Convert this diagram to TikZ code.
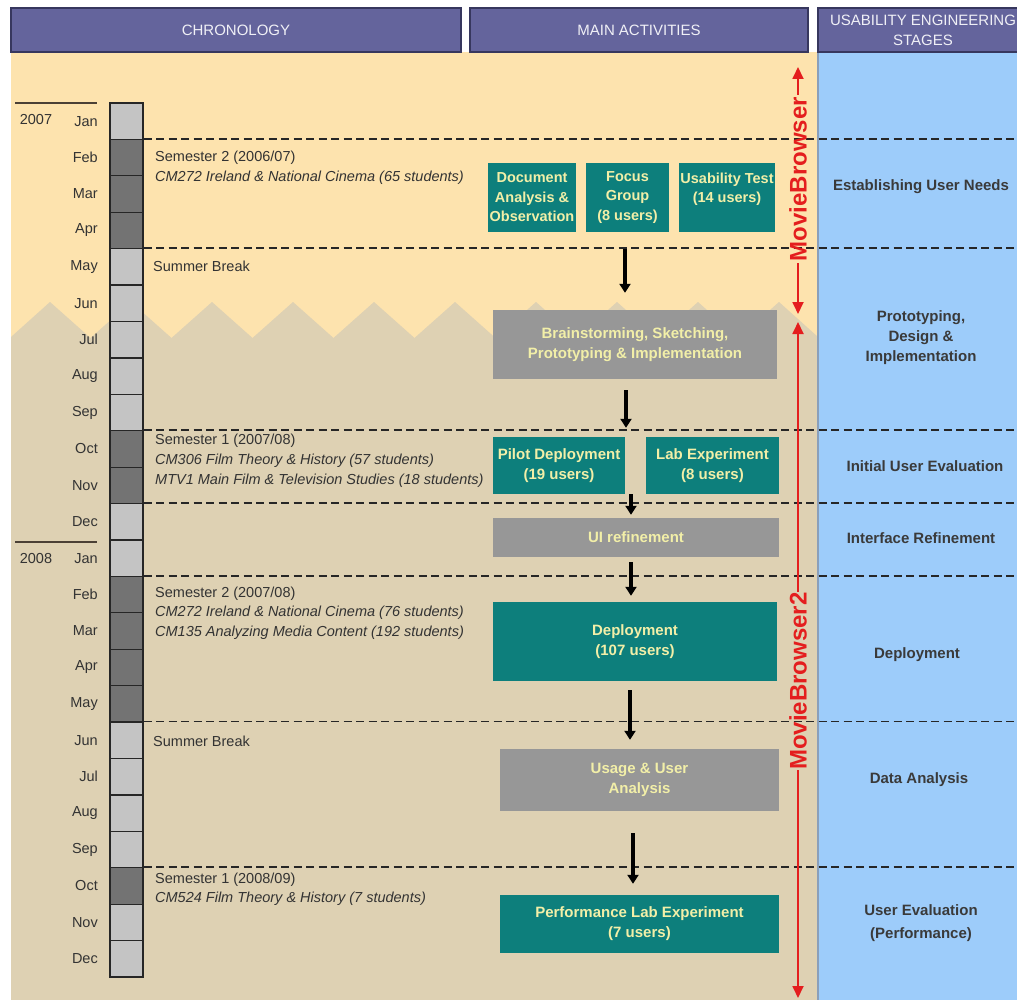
\documentclass[tikz,border=0pt]{standalone}
\usepackage{fontspec}
\setmainfont{Liberation Sans}
\usetikzlibrary{arrows.meta,calc}
\definecolor{beigec}{HTML}{FDE3AE}
\definecolor{tanc}{HTML}{DED1B3}
\definecolor{bluec}{HTML}{9DCCFA}
\definecolor{blueedge}{HTML}{8A9FBA}
\definecolor{headc}{HTML}{64649C}
\definecolor{headedge}{HTML}{37375E}
\definecolor{headtxt}{HTML}{F0F0F6}
\definecolor{tealc}{HTML}{0D7F7C}
\definecolor{greyc}{HTML}{979797}
\definecolor{boxtxt}{HTML}{F2EFA8}
\definecolor{txtc}{HTML}{333333}
\definecolor{stagec}{HTML}{3A3A3A}
\definecolor{mlight}{HTML}{C4C4C4}
\definecolor{mdark}{HTML}{737373}
\definecolor{redc}{HTML}{E41E1E}
\definecolor{yearline}{HTML}{4B4035}
\begin{document}
\begin{tikzpicture}[x=1pt,y=-1pt,
  txt/.style={font=\fontsize{14.5}{20}\selectfont, text=txtc, inner sep=0pt},
  itxt/.style={font=\fontsize{14.5}{20}\selectfont\itshape, text=txtc, inner sep=0pt},
  header/.style={fill=headc, draw=headedge, line width=1.2pt, text=headtxt,
    font=\fontsize{15}{20}\selectfont, align=center, inner sep=0pt},
  actbox/.style={inner sep=0pt, align=center, text=boxtxt,
    font=\fontsize{15}{20}\selectfont\bfseries},
  tealbox/.style={actbox, fill=tealc},
  greybox/.style={actbox, fill=greyc},
  smallbox/.style={tealbox, font=\fontsize{14.5}{19.5}\selectfont\bfseries},
  stage/.style={font=\fontsize{15}{20}\selectfont\bfseries, text=stagec, align=center, inner sep=0pt},
  monthbox/.style={draw=black!85, line width=1.2pt, minimum width=33pt,
    minimum height=36.4167pt, inner sep=0pt},
  monthlabel/.style={txt, anchor=east},
  sepline/.style={draw=black!85, line width=1.6pt, dash pattern=on 8pt off 4.5pt},
  flow/.style={draw=black, line width=3.2pt, -{Triangle[width=11pt,length=9pt]}},
  redarrow/.style={draw=redc, line width=1.8pt, -{Triangle[width=11pt,length=12pt]}},
  redlabel/.style={text=redc, font=\fontsize{24}{24}\selectfont\bfseries, rotate=90, inner sep=2pt}
]
\useasboundingbox (0,0) rectangle (1017,1000);
\fill[white] (0,0) rectangle (1017,1000);
% backgrounds
\fill[beigec] (11,52) rectangle (818,1000);
\fill[tanc] (11,1000) -- (11,337) -- (50,302) -- (90.5,338) -- (131,302) -- (171.5,338)
  -- (212,302) -- (252.5,338) -- (293,302) -- (333.5,338) -- (374,302) -- (414.5,338)
  -- (455,302) -- (495.5,338) -- (536,302) -- (576.5,338) -- (617,302) -- (657.5,338)
  -- (698,302) -- (738.5,338) -- (779,302) -- (818,337) -- (818,1000) -- cycle;
\fill[bluec] (818,52) rectangle (1017,1000);
\draw[blueedge, line width=1.5pt] (818,52) -- (818,1000);

% headers
\node[header, minimum width=450pt, minimum height=44pt] (h1) at (236,30) {CHRONOLOGY};
\node[header, minimum width=338pt, minimum height=44pt] (h2) at (639,30) {MAIN ACTIVITIES};
\node[header, minimum width=210pt, minimum height=44pt] (h3) at (923,30) {USABILITY ENGINEERING\\STAGES};

% year lines and labels
\draw[yearline, line width=1.5pt] (15,103) -- (97,103);
\draw[yearline, line width=1.5pt] (15,542) -- (97,542);
\node[txt] (y2007) at (36,120) {2007};
\node[txt] (y2008) at (36,559) {2008};

% months
\coordinate (edge) at (1017,0);
\foreach \m/\c [count=\i from 0] in {Jan/mlight,Feb/mdark,Mar/mdark,Apr/mdark,May/mlight,Jun/mlight,
  Jul/mlight,Aug/mlight,Sep/mlight,Oct/mdark,Nov/mdark,Dec/mlight,
  Jan/mlight,Feb/mdark,Mar/mdark,Apr/mdark,May/mdark,Jun/mlight,
  Jul/mlight,Aug/mlight,Sep/mlight,Oct/mdark,Nov/mlight,Dec/mlight}{
  \node[monthbox, fill=\c] (m\i) at (126.5,{103+36.4167*(\i+0.5)}) {};
  \node[monthlabel] (ml\i) at (98,{103+36.4167*(\i+0.5)}) {\m};
}

% dashed separators
\foreach \i in {1,4,9,11,13,17,21}{
  \draw[sepline] (m\i.north east) -- (m\i.north east -| edge);
}

% chronology texts
\node[txt, anchor=west] (s1a) at (155,158) {Semester 2 (2006/07)};
\node[itxt, anchor=west] (s1b) at (155,178) {CM272 Ireland \& National Cinema (65 students)};
\node[txt, anchor=west] (sb1) at (153,266) {Summer Break};
\node[txt, anchor=west] (s2a) at (155,441) {Semester 1 (2007/08)};
\node[itxt, anchor=west] (s2b) at (155,461) {CM306 Film Theory \& History (57 students)};
\node[itxt, anchor=west] (s2c) at (155,481) {MTV1 Main Film \& Television Studies (18 students)};
\node[txt, anchor=west] (s3a) at (155,594) {Semester 2 (2007/08)};
\node[itxt, anchor=west] (s3b) at (155,613) {CM272 Ireland \& National Cinema (76 students)};
\node[itxt, anchor=west] (s3c) at (155,633) {CM135 Analyzing Media Content (192 students)};
\node[txt, anchor=west] (sb2) at (153,741) {Summer Break};
\node[txt, anchor=west] (s4a) at (155,880) {Semester 1 (2008/09)};
\node[itxt, anchor=west] (s4b) at (155,899) {CM524 Film Theory \& History (7 students)};

% activity boxes
\node[smallbox, minimum width=88pt, minimum height=69pt] (doc) at (532,197.5) {Document\\Analysis \&\\Observation};
\node[smallbox, minimum width=83pt, minimum height=69pt] (fg) at (627.5,197.5) {Focus\\Group\\(8 users)};
\node[smallbox, minimum width=96pt, minimum height=69pt] (ut) at (727,197.5) {Usability Test\\(14 users)\\\mbox{}};
\node[greybox, minimum width=284pt, minimum height=69pt] (brain) at (635,344.5) {Brainstorming, Sketching,\\Prototyping \& Implementation};
\node[tealbox, minimum width=132pt, minimum height=57pt] (pilot) at (559,465.5) {Pilot Deployment\\(19 users)};
\node[tealbox, minimum width=133pt, minimum height=57pt] (lab) at (712.5,465.5) {Lab Experiment\\(8 users)};
\node[greybox, minimum width=286pt, minimum height=39pt] (ui) at (636,537.5) {UI refinement};
\node[tealbox, minimum width=284pt, minimum height=79pt] (dep) at (635,641.5) {Deployment\\(107 users)};
\node[greybox, minimum width=279pt, minimum height=62pt] (usage) at (639.5,780) {Usage \& User\\Analysis};
\node[tealbox, minimum width=279pt, minimum height=58pt] (perf) at (639.5,924) {Performance Lab Experiment\\(7 users)};

% flow arrows
\draw[flow, shorten <=17pt, shorten >=17pt] ([xshift=-2.5pt]fg.south) -- ([xshift=-2.5pt]fg.south |- brain.north);
\draw[flow, shorten <=11pt, shorten >=9pt] ([xshift=-9pt]brain.south) -- ([xshift=-9pt]brain.south |- pilot.north);
\draw[flow, shorten >=3pt] ([xshift=-5pt]ui.north |- pilot.south) -- ([xshift=-5pt]ui.north);
\draw[flow, shorten <=5pt, shorten >=6pt] ([xshift=-5pt]ui.south) -- ([xshift=-5pt]ui.south |- dep.north);
\draw[flow, shorten <=9pt, shorten >=9pt] ([xshift=-5pt]dep.south) -- ([xshift=-5pt]dep.south |- usage.north);
\draw[flow, shorten <=22pt, shorten >=11pt] ([xshift=-6.5pt]usage.south) -- ([xshift=-6.5pt]usage.south |- perf.north);

% stages
\node[stage] (st1) at (921,187) {Establishing User Needs};
\node[stage] (st2) at (921,338) {Prototyping,\\Design \&\\Implementation};
\node[stage] (st3) at (925,466) {Initial User Evaluation};
\node[stage] (st4) at (921,538) {Interface Refinement};
\node[stage] (st5) at (917,655) {Deployment};
\node[stage] (st6) at (919,780) {Data Analysis};
\node[stage, font=\fontsize{15}{23}\selectfont\bfseries] (st7) at (921,923) {User Evaluation\\(Performance)};

% product spans
\coordinate (mbtop) at (798,67);
\coordinate (mbbot) at (798,314);
\node[redlabel] (mb) at (798,179) {MovieBrowser};
\draw[redarrow] (mb) -- (mbtop);
\draw[redarrow] (mb) -- (mbbot);
\coordinate (mb2top) at (798,322);
\coordinate (mb2bot) at (798,998);
\node[redlabel, inner sep=0.5pt] (mb2) at (798,681) {MovieBrowser2};
\draw[redarrow] (mb2) -- (mb2top);
\draw[redarrow] (mb2) -- (mb2bot);
\end{tikzpicture}
\end{document}
